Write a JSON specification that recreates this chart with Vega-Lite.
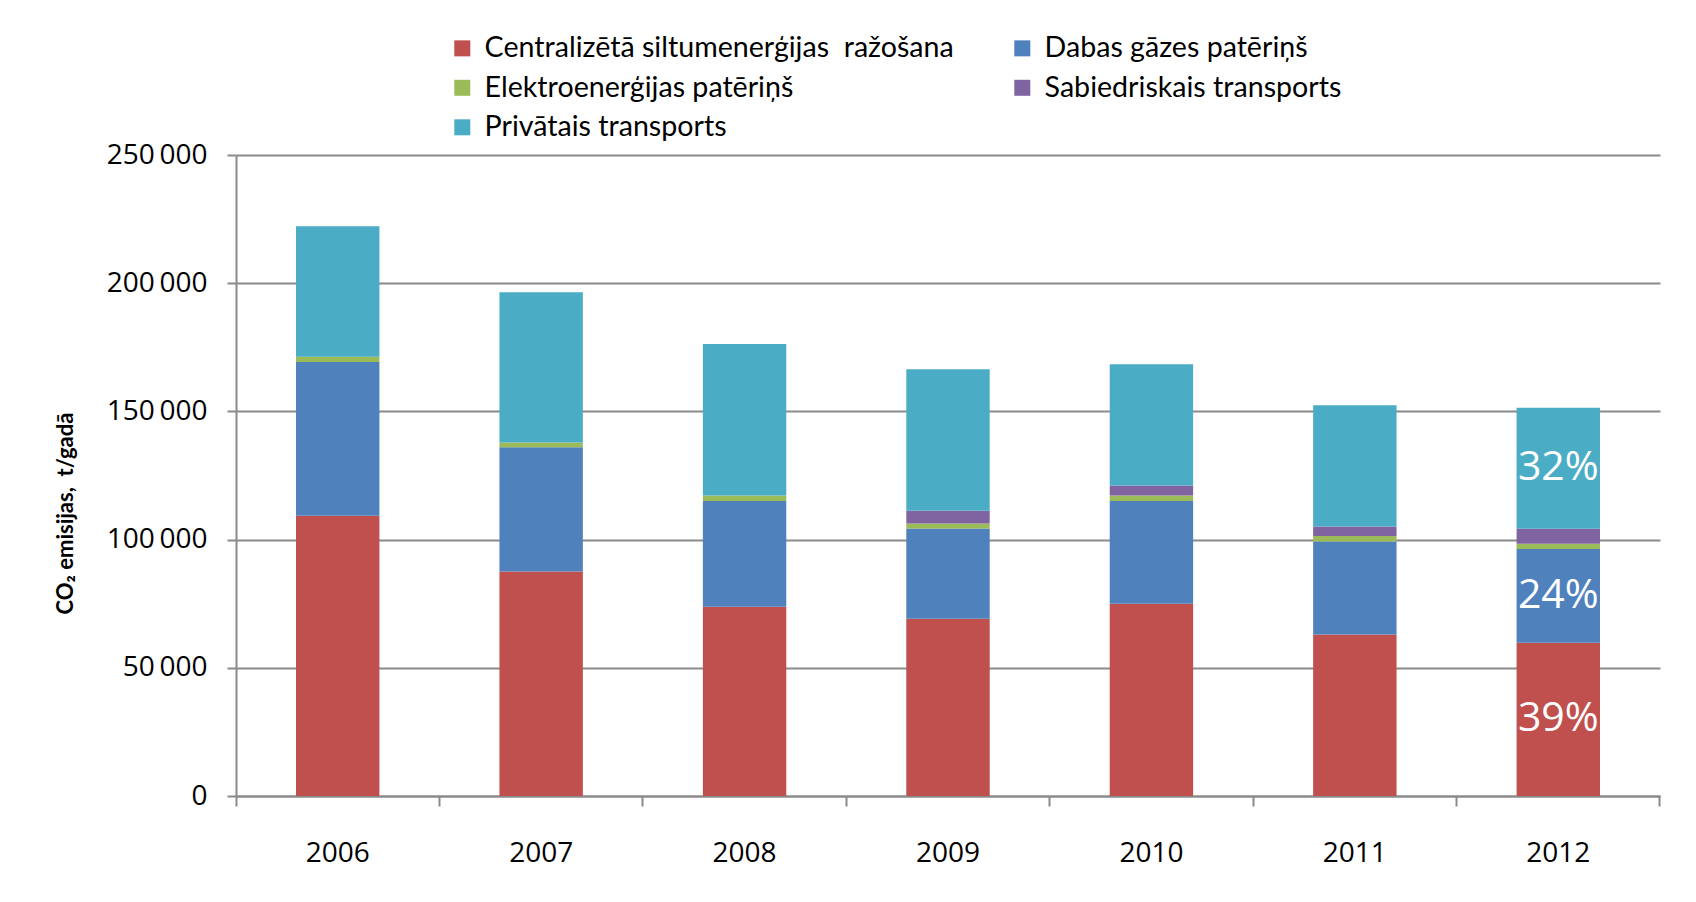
{
  "$schema": "https://vega.github.io/schema/vega-lite/v6.json",
  "width": 1424,
  "height": 641,
  "autosize": {"type": "none"},
  "padding": {"left": 236, "top": 155, "right": 36, "bottom": 106},
  "background": "white",
  "config": {"view": {"stroke": null}, "font": "Open Sans"},
  "data": {
    "values": [
      {"year": "2006", "sector": "Centralizētā siltumenerģijas  ražošana", "value": 109300},
      {"year": "2006", "sector": "Dabas gāzes patēriņš", "value": 60000},
      {"year": "2006", "sector": "Elektroenerģijas patēriņš", "value": 2000},
      {"year": "2006", "sector": "Privātais transports", "value": 50900},
      {"year": "2007", "sector": "Centralizētā siltumenerģijas  ražošana", "value": 87600},
      {"year": "2007", "sector": "Dabas gāzes patēriņš", "value": 48400},
      {"year": "2007", "sector": "Elektroenerģijas patēriņš", "value": 1900},
      {"year": "2007", "sector": "Privātais transports", "value": 58600},
      {"year": "2008", "sector": "Centralizētā siltumenerģijas  ražošana", "value": 73800},
      {"year": "2008", "sector": "Dabas gāzes patēriņš", "value": 41300},
      {"year": "2008", "sector": "Elektroenerģijas patēriņš", "value": 2100},
      {"year": "2008", "sector": "Privātais transports", "value": 59100},
      {"year": "2009", "sector": "Centralizētā siltumenerģijas  ražošana", "value": 69100},
      {"year": "2009", "sector": "Dabas gāzes patēriņš", "value": 35200},
      {"year": "2009", "sector": "Elektroenerģijas patēriņš", "value": 2000},
      {"year": "2009", "sector": "Sabiedriskais transports", "value": 5000},
      {"year": "2009", "sector": "Privātais transports", "value": 55100},
      {"year": "2010", "sector": "Centralizētā siltumenerģijas  ražošana", "value": 75000},
      {"year": "2010", "sector": "Dabas gāzes patēriņš", "value": 40100},
      {"year": "2010", "sector": "Elektroenerģijas patēriņš", "value": 2100},
      {"year": "2010", "sector": "Sabiedriskais transports", "value": 3900},
      {"year": "2010", "sector": "Privātais transports", "value": 47300},
      {"year": "2011", "sector": "Centralizētā siltumenerģijas  ražošana", "value": 63000},
      {"year": "2011", "sector": "Dabas gāzes patēriņš", "value": 36300},
      {"year": "2011", "sector": "Elektroenerģijas patēriņš", "value": 2100},
      {"year": "2011", "sector": "Sabiedriskais transports", "value": 3700},
      {"year": "2011", "sector": "Privātais transports", "value": 47300},
      {"year": "2012", "sector": "Centralizētā siltumenerģijas  ražošana", "value": 59800, "label": "39%"},
      {"year": "2012", "sector": "Dabas gāzes patēriņš", "value": 36500, "label": "24%"},
      {"year": "2012", "sector": "Elektroenerģijas patēriņš", "value": 2100},
      {"year": "2012", "sector": "Sabiedriskais transports", "value": 5800},
      {"year": "2012", "sector": "Privātais transports", "value": 47200, "label": "32%"}
    ]
  },
  "transform": [
    {"calculate": "indexof(['Centralizētā siltumenerģijas  ražošana','Dabas gāzes patēriņš','Elektroenerģijas patēriņš','Sabiedriskais transports','Privātais transports'], datum.sector)", "as": "k"},
    {"stack": "value", "groupby": ["year"], "sort": [{"field": "k", "order": "ascending"}], "as": ["v0", "v1"]},
    {"calculate": "(datum.v0 + datum.v1) / 2", "as": "mid"}
  ],
  "encoding": {
    "x": {
      "field": "year",
      "type": "ordinal",
      "scale": {"paddingInner": 0, "paddingOuter": 0},
      "axis": {
        "title": null,
        "grid": false,
        "bandPosition": 1,
        "tickExtra": true,
        "labelAngle": 0,
        "domainColor": "#8a8a8a",
        "domainWidth": 2,
        "tickColor": "#8a8a8a",
        "tickWidth": 2,
        "tickSize": 10,
        "labelFont": "Open Sans",
        "labelFontSize": 28,
        "labelColor": "black",
        "labelPadding": 33
      }
    }
  },
  "layer": [
    {
      "mark": {"type": "bar", "width": {"band": 0.41}},
      "encoding": {
        "y": {
          "field": "v1",
          "type": "quantitative",
          "scale": {"domain": [0, 250000], "nice": false, "zero": true},
          "axis": {
            "title": "CO₂ emisijas,\u00a0\u00a0t/gadā",
            "values": [0, 50000, 100000, 150000, 200000, 250000],
            "grid": true,
            "gridColor": "#8a8a8a",
            "gridWidth": 2,
            "domainColor": "#8a8a8a",
            "domainWidth": 2,
            "tickColor": "#8a8a8a",
            "tickWidth": 2,
            "tickSize": 9,
            "labelFont": "Open Sans",
            "labelFontSize": 28,
            "labelColor": "black",
            "labelPadding": 20,
            "labelExpr": "replace(format(datum.value, ','), ',', '\u2009')",
            "titleFont": "Lato",
            "titleFontSize": 22,
            "titleFontWeight": "bold",
            "titleColor": "black",
            "titleAngle": -90,
            "titleX": -171,
            "titleY": 358,
            "titleAlign": "center",
            "titleBaseline": "middle"
          }
        },
        "y2": {"field": "v0"},
        "color": {
          "field": "sector",
          "type": "nominal",
          "scale": {
            "domain": ["Centralizētā siltumenerģijas  ražošana", "Dabas gāzes patēriņš", "Elektroenerģijas patēriņš", "Sabiedriskais transports", "Privātais transports"],
            "range": ["#C0504D", "#4F81BD", "#9BBB59", "#8064A2", "#4BACC6"]
          },
          "legend": {
            "orient": "none",
            "legendX": 212,
            "legendY": -121,
            "direction": "horizontal",
            "columns": 2,
            "title": null,
            "padding": 0,
            "symbolType": "square",
            "symbolSize": 256,
            "symbolStrokeWidth": 0,
            "labelFont": "Lato",
            "labelFontSize": 28.6,
            "labelColor": "black",
            "labelLimit": 0,
            "labelOffset": 8,
            "labelExpr": "replace(datum.label, '  ', '\u00a0\u00a0')",
            "columnPadding": 54,
            "rowPadding": 10.5
          }
        }
      }
    },
    {
      "transform": [{"filter": "isValid(datum.label)"}],
      "mark": {"type": "text", "color": "white", "fontSize": 41, "font": "Open Sans", "baseline": "middle"},
      "encoding": {
        "y": {"field": "mid", "type": "quantitative"},
        "text": {"field": "label"}
      }
    }
  ]
}
